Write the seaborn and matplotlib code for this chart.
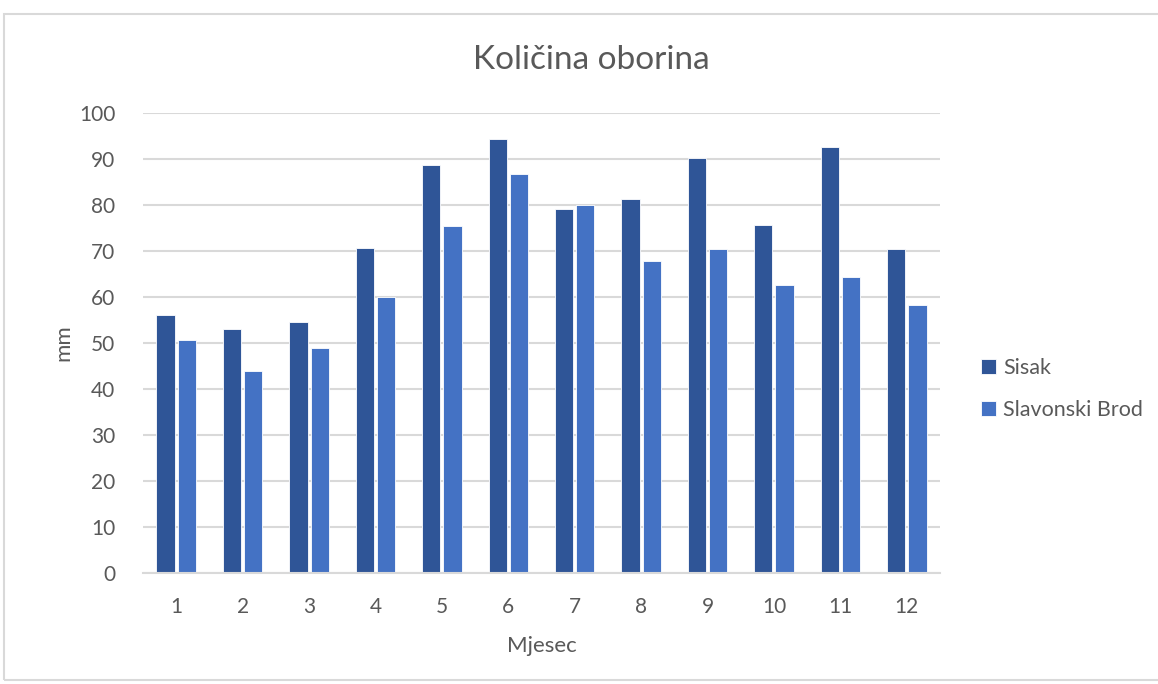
import matplotlib
matplotlib.use("Agg")
import matplotlib.pyplot as plt
from matplotlib.patches import Rectangle
import seaborn as sns
import pandas as pd

months = [1, 2, 3, 4, 5, 6, 7, 8, 9, 10, 11, 12]
sisak = [56.0, 53.1, 54.6, 70.7, 88.8, 94.4, 79.1, 81.3, 90.2, 75.7, 92.5, 70.4]
slavonski_brod = [50.6, 44.0, 49.0, 59.9, 75.4, 86.7, 79.9, 67.9, 70.4, 62.7, 64.3, 58.2]
series_names = ["Sisak", "Slavonski Brod"]
colors = ["#2F5597", "#4472C4"]

df = pd.DataFrame({
    "Mjesec": months * 2,
    "mm": sisak + slavonski_brod,
    "Serija": [series_names[0]] * len(months) + [series_names[1]] * len(months),
})

sns.set_theme(style="white")
plt.rcParams['font.family'] = ['Lato', 'DejaVu Sans']
text_color = "#595959"

fig = plt.figure(figsize=(11.58, 6.84), dpi=100)
ax = fig.add_axes([143 / 1158, 1 - 573 / 684, (940 - 143) / 1158, (573 - 113) / 684])

sns.barplot(data=df, x="Mjesec", y="mm", hue="Serija", palette=colors,
            saturation=1, width=0.64, gap=0.14, ax=ax, edgecolor="white",
            linewidth=0.6, legend=True)

ax.set_ylim(0, 100)
ax.set_yticks(range(0, 101, 10))
ax.set_xlim(-0.5, 11.5)
ax.yaxis.grid(True, color="#D9D9D9", linewidth=1.5)
ax.set_axisbelow(True)
for s in ["top", "right", "left"]:
    ax.spines[s].set_visible(False)
ax.spines["bottom"].set_color("#D9D9D9")
ax.spines["bottom"].set_linewidth(1.5)
ax.tick_params(axis="both", length=0, labelsize=15, colors=text_color)
ax.tick_params(axis="x", pad=17)
ax.tick_params(axis="y", pad=20)

ax.set_xlabel("Mjesec", fontsize=16, color=text_color, labelpad=14)
ax.set_ylabel("mm", fontsize=16, color=text_color, labelpad=4)

fig.text(591 / 1158, 1 - 60 / 684, "Količina oborina", fontsize=24,
         color=text_color, ha="center", va="center")

leg = ax.legend(loc="center left", bbox_to_anchor=(962 / 1158, 1 - 389 / 684),
                bbox_transform=fig.transFigure, frameon=False, fontsize=15.5,
                handlelength=0.7, handleheight=0.7, handletextpad=0.3,
                labelspacing=1.05, labelcolor=text_color)

fig.patches.append(Rectangle((4 / 1158, 1 - 680 / 684), 1.2, (680 - 14) / 684,
                             transform=fig.transFigure, fill=False,
                             edgecolor="#D9D9D9", linewidth=1.5, clip_on=False))

fig.savefig("out.png", dpi=100)
